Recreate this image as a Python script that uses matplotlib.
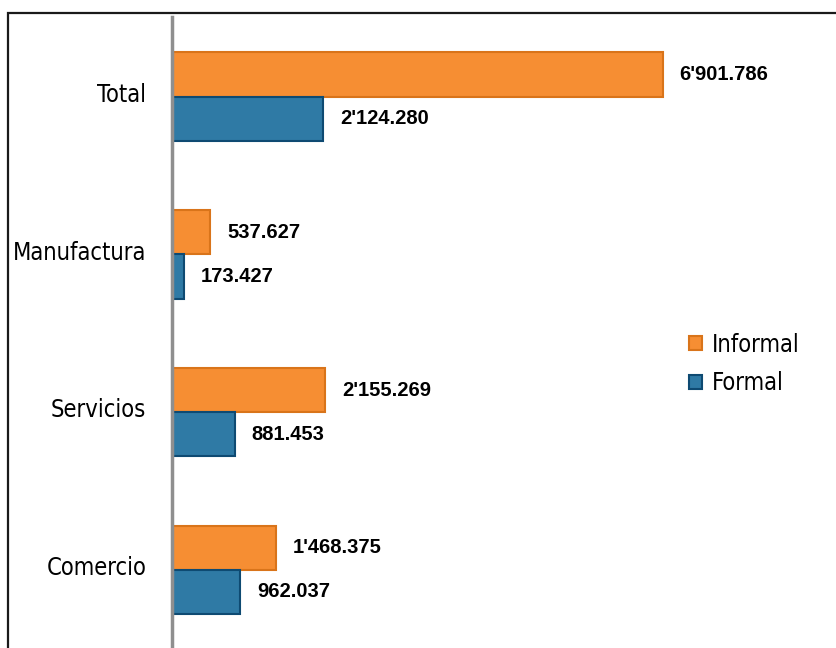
import matplotlib.pyplot as plt
import matplotlib.transforms as mtransforms
from matplotlib.patches import Rectangle

# === data ===
categories = ['Comercio', 'Servicios', 'Manufactura', 'Total']
informal = [1468.375, 2155.269, 537.627, 6901.786]
formal = [962.037, 881.453, 173.427, 2124.280]
informal_labels = ["1'468.375", "2'155.269", "537.627", "6'901.786"]
formal_labels = ["962.037", "881.453", "173.427", "2'124.280"]

W, H = 837, 648
fig = plt.figure(figsize=(W / 100, H / 100), dpi=100)
ax = fig.add_axes([172 / W, 0, 1 - 172 / W, 1 - 17 / H])

orange, orange_edge = '#F68E33', '#D9741A'
blue, blue_edge = '#2F7AA5', '#0E4A72'
bh = 0.28
ypos = list(range(len(categories)))

ax.barh([y + bh / 2 for y in ypos], informal, height=bh, color=orange,
        edgecolor=orange_edge, linewidth=1.5, label='Informal')
ax.barh([y - bh / 2 for y in ypos], formal, height=bh, color=blue,
        edgecolor=blue_edge, linewidth=1.5, label='Formal')

for y, v, t in zip(ypos, informal, informal_labels):
    ax.annotate(t, (v, y + bh / 2), xytext=(12, 0), textcoords='offset points',
                va='center', ha='left', fontsize=14.5, fontweight='bold',
                family='Liberation Sans')
for y, v, t in zip(ypos, formal, formal_labels):
    ax.annotate(t, (v, y - bh / 2), xytext=(12, 0), textcoords='offset points',
                va='center', ha='left', fontsize=14.5, fontweight='bold',
                family='Liberation Sans')

ax.set_xlim(0, 9350)
ax.set_ylim(-0.495, 3.505)
ax.set_yticks(ypos)
ax.set_yticklabels(categories, fontsize=17, family='DejaVu Sans', fontstretch='condensed')
ax.tick_params(axis='y', length=0, pad=18.5)
# nudge category labels up a little
shift = mtransforms.ScaledTranslation(0, 3 / 72, fig.dpi_scale_trans)
for lab in ax.get_yticklabels():
    lab.set_transform(lab.get_transform() + shift)
ax.set_xticks([])
for s in ['top', 'right', 'bottom']:
    ax.spines[s].set_visible(False)
ax.spines['left'].set_color('#8f8f8f')
ax.spines['left'].set_linewidth(2.5)

leg = fig.legend(loc='center left', bbox_to_anchor=(689 / W, 1 - 364 / H),
                 frameon=False, handlelength=0.55, handleheight=0.55,
                 handletextpad=0.4, labelspacing=0.63, borderpad=0, borderaxespad=0,
                 prop={'family': 'DejaVu Sans', 'stretch': 'condensed', 'size': 17})

# outer frame
fig.patches.append(Rectangle((8 / W, -0.1), 1.0, 1.1 - 13 / H, transform=fig.transFigure,
                             fill=False, edgecolor='#1a1a1a', linewidth=1.6))

fig.savefig('out.png', dpi=100)
